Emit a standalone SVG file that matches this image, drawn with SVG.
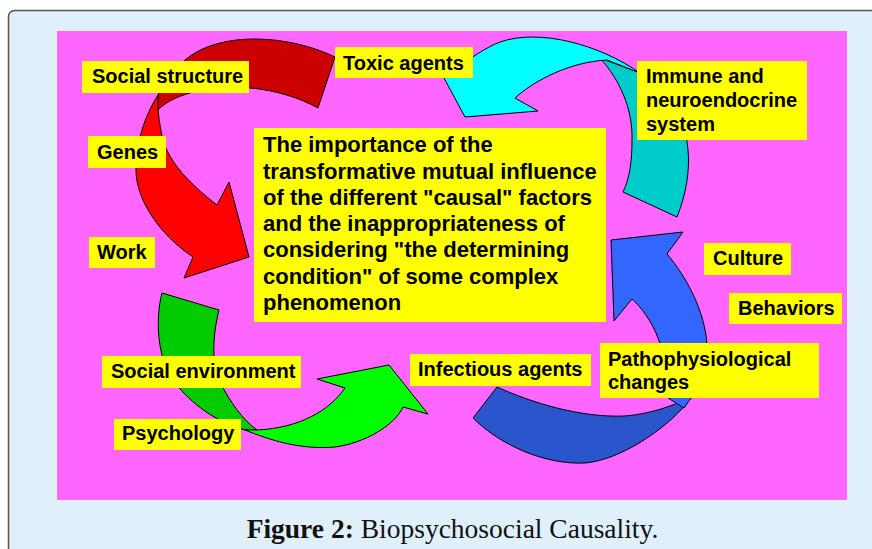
<svg xmlns="http://www.w3.org/2000/svg" width="872" height="549" viewBox="0 0 872 549">
<style>
.lbl{font-family:"Liberation Sans",Arial,sans-serif;font-weight:bold;font-size:20px;fill:#000}
.ctr{font-family:"Liberation Sans",Arial,sans-serif;font-weight:bold;font-size:22px;fill:#000}
.box{fill:#FFFF00}
.arr{stroke:#000;stroke-width:1;stroke-linejoin:miter}
.cap{font-family:"Liberation Serif","Times New Roman",serif;font-size:27.5px;fill:#111}
</style>
<rect x="0" y="0" width="872" height="549" fill="#FFFFFF"/>
<rect x="8.5" y="10.5" width="900" height="600" rx="6" ry="6" fill="#DFF0FA" stroke="#555" stroke-width="1.5"/>
<rect x="57" y="31" width="790" height="469" fill="#FF66FF"/>
<g id="connectors">
  <path class="arr" fill="#CC0000" d="M335,57 C290,35 220,30 185,60 C170,72 162,85 158,95 L158,110 C175,92 215,85 250,88 C275,90 300,98 318,108 Z"/>
  <path class="arr" fill="#FF0000" d="M158,95 C145,115 135,145 136,170 C136,200 160,235 193,257 L184,278 L249,257 L229,182 L217,205 C195,188 170,165 163,140 C160,128 159,118 158,110 Z"/>
  <path class="arr" fill="#00CCCC" d="M600,58 C620,80 633,110 632,140 C632,160 630,178 623,192 L677,217 C686,195 690,170 688,150 C685,115 668,88 640,73 Z"/>
  <path class="arr" fill="#00FFFF" d="M444,78 L465,117 L538,111 L515,98 C535,80 570,62 607,60 L640,73 C600,45 540,28 500,42 C485,48 470,58 458,68 Z"/>
  <path class="arr" fill="#2A55CC" d="M473,418 L497,387 C530,402 580,418 625,416 C650,414 672,406 690,398 L688,402 C665,430 620,460 585,463 C545,465 500,445 473,418 Z"/>
  <path class="arr" fill="#3366FF" d="M611,240 L683,232 L667,254 C685,275 705,310 707,345 C708,370 700,390 688,402 L684,408 L668,398 C668,375 665,355 658,338 C652,322 642,308 632,299 L614,321 Z"/>
  <path class="arr" fill="#00CC00" d="M162,293 L219,310 C214,330 210,360 220,382 C230,402 243,420 257,430 L245,430 C215,422 185,400 170,375 C158,355 155,320 162,293 Z"/>
  <path class="arr" fill="#00FF00" d="M245,430 C270,440 300,450 335,447 C365,443 395,425 403,407 L428,414 L389,365 L317,379 L345,388 C330,410 300,428 257,430 Z"/>
</g>
<g id="social-structure"><rect class="box" x="82" y="61" width="167" height="32"/><text class="lbl" x="92" y="83">Social structure</text></g>
<g id="toxic-agents"><rect class="box" x="335" y="47" width="138" height="31"/><text class="lbl" x="343" y="70">Toxic agents</text></g>
<g id="genes"><rect class="box" x="88" y="136" width="78" height="32"/><text class="lbl" x="97" y="159">Genes</text></g>
<g id="work"><rect class="box" x="89" y="237" width="66" height="31"/><text class="lbl" x="97" y="259">Work</text></g>
<g id="center"><rect class="box" x="254" y="128" width="352" height="194"/>
<text class="ctr" x="263" y="152">The importance of the</text>
<text class="ctr" x="263" y="179">transformative mutual influence</text>
<text class="ctr" x="263" y="205">of the different "causal" factors</text>
<text class="ctr" x="263" y="231">and the inappropriateness of</text>
<text class="ctr" x="263" y="257">considering "the determining</text>
<text class="ctr" x="263" y="284">condition" of some complex</text>
<text class="ctr" x="263" y="310">phenomenon</text>
</g>
<g id="immune"><rect class="box" x="637" y="61" width="170" height="79"/>
<text class="lbl" x="646" y="83">Immune and</text>
<text class="lbl" x="646" y="107">neuroendocrine</text>
<text class="lbl" x="646" y="131">system</text></g>
<g id="culture"><rect class="box" x="704" y="243" width="87" height="32"/><text class="lbl" x="713" y="265">Culture</text></g>
<g id="behaviors"><rect class="box" x="729" y="293" width="113" height="31"/><text class="lbl" x="738" y="315">Behaviors</text></g>
<g id="pathophysiological"><rect class="box" x="600" y="343" width="219" height="55"/>
<text class="lbl" x="608" y="366">Pathophysiological</text>
<text class="lbl" x="608" y="389">changes</text></g>
<g id="infectious"><rect class="box" x="410" y="354" width="181" height="32"/><text class="lbl" x="418" y="376">Infectious agents</text></g>
<g id="social-environment"><rect class="box" x="102" y="356" width="199" height="32"/><text class="lbl" x="111" y="378">Social environment</text></g>
<g id="psychology"><rect class="box" x="114" y="419" width="127" height="31"/><text class="lbl" x="122" y="440">Psychology</text></g>
<text class="cap" x="452.5" y="538" text-anchor="middle"><tspan font-weight="bold">Figure 2:</tspan> Biopsychosocial Causality.</text>
</svg>
